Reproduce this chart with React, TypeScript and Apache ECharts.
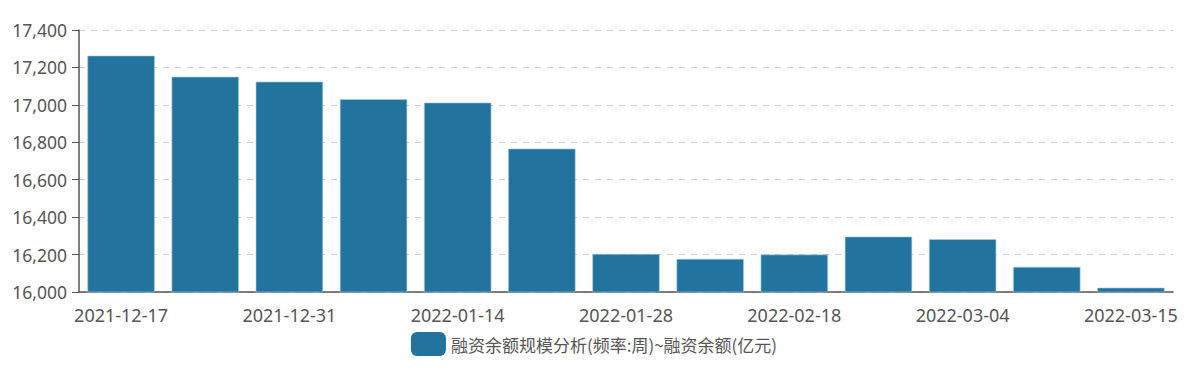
import React, { useEffect, useRef } from "react";
import * as echarts from "echarts";

const categories = [
  "2021-12-17", "2021-12-24", "2021-12-31", "2022-01-07", "2022-01-14", "2022-01-21",
  "2022-01-28", "2022-02-11", "2022-02-18", "2022-02-25", "2022-03-04", "2022-03-11", "2022-03-15",
];
const financingBalance = [
  17263, 17150, 17124, 17030, 17012, 16766, 16203, 16177, 16200, 16296, 16282, 16134, 16023,
];
const seriesName = "融资余额规模分析(频率:周)~融资余额(亿元)";
const yMin = 16000;
const yMax = 17400;
const yInterval = 200;

export default function App() {
  const ref = useRef<HTMLDivElement>(null);
  useEffect(() => {
    if (!ref.current) return;
    document.body.style.margin = "0";
    const chart = echarts.init(ref.current, null, { renderer: "svg" });
    const textColor = "#555";
    const font = "'Noto Sans', 'Noto Sans CJK SC', sans-serif";
    chart.setOption({
      animation: false,
      textStyle: { fontFamily: font },
      grid: { left: 79, right: 15, top: 30, bottom: 80, containLabel: false },
      legend: {
        bottom: 11,
        left: "center",
        icon: "roundRect",
        itemWidth: 35,
        itemHeight: 24,
        itemGap: 10,
        itemStyle: { borderWidth: 0 },
        textStyle: { fontSize: 17, color: textColor, fontFamily: "'Noto Sans CJK SC', sans-serif" },
        data: [seriesName],
      },
      xAxis: {
        type: "category",
        data: categories,
        boundaryGap: true,
        axisLine: { lineStyle: { color: "#555", width: 1.5 } },
        axisTick: {
          alignWithLabel: true,
          length: 6,
          interval: (i: number) => i % 2 === 1,
          lineStyle: { color: "#555" },
        },
        axisLabel: {
          interval: 1,
          margin: 14,
          fontSize: 18,
          color: textColor,
        },
      },
      yAxis: {
        type: "value",
        min: yMin,
        max: yMax,
        interval: yInterval,
        axisLine: { show: true, lineStyle: { color: "#555", width: 1.5 } },
        axisTick: { show: true, length: 7, lineStyle: { color: "#555" } },
        axisLabel: {
          margin: 12,
          fontSize: 17.5,
          color: textColor,
          formatter: (v: number) => v.toLocaleString("en-US"),
        },
        splitLine: { show: true, lineStyle: { color: "#ccc", type: [6, 6] } },
      },
      series: [
        {
          name: seriesName,
          type: "bar",
          data: financingBalance,
          barCategoryGap: "20%",
          itemStyle: { color: "#22749f", borderColor: "#a9cbe0", borderWidth: 0.6 },
        },
      ],
    });
    return () => chart.dispose();
  }, []);
  return <div ref={ref} style={{ width: 1188, height: 372 }} />;
}
